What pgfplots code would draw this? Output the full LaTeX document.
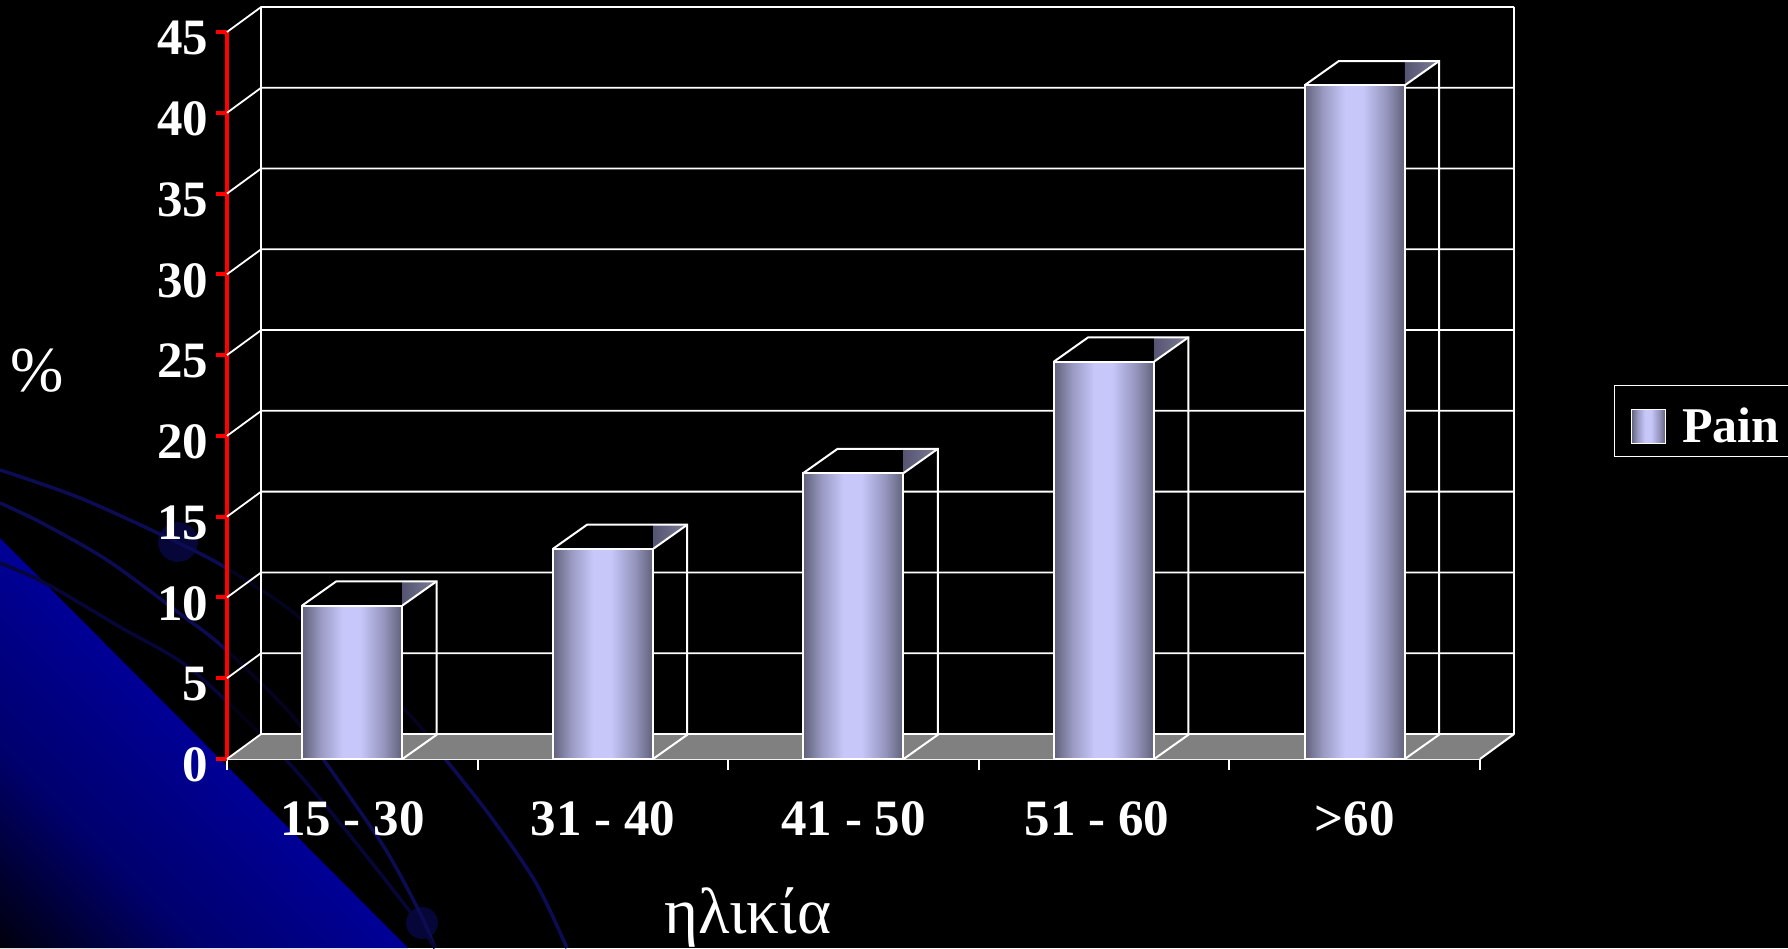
\documentclass[border=0pt]{standalone}
\usepackage{pgfplots}
\pgfplotsset{compat=1.18}
\usepackage{fontspec}
\setmainfont{Liberation Serif}
\definecolor{navy}{RGB}{12,12,84}
\definecolor{navyd}{RGB}{6,6,56}
\definecolor{floorg}{RGB}{128,128,128}
\definecolor{sideD}{RGB}{85,85,115}
\definecolor{sideL}{RGB}{125,125,150}
\pgfdeclarehorizontalshading{barshade}{100bp}{%
 rgb(0bp)=(0.38,0.38,0.48);
 rgb(25bp)=(0.38,0.38,0.48);
 rgb(34bp)=(0.60,0.60,0.76);
 rgb(45bp)=(0.78,0.78,0.98);
 rgb(54bp)=(0.78,0.78,0.98);
 rgb(66bp)=(0.58,0.58,0.74);
 rgb(75bp)=(0.38,0.38,0.48);
 rgb(100bp)=(0.38,0.38,0.48)}
\pgfdeclareverticalshading{swoop}{100bp}{%
 rgb(0bp)=(0,0,0.06);
 rgb(15bp)=(0,0,0.06);
 rgb(32bp)=(0,0,0.43);
 rgb(50bp)=(0,0,0.59);
 rgb(100bp)=(0,0,0.59)}
\newcommand{\threed}[2]{%
  \fill[left color=sideD,right color=sideL] ({#1+0.2},#2) -- ({#1+0.2},{#2+1.5}) -- ({#1+0.3365},{#2+1.5}) -- cycle;
  \draw[white,line width=2pt] ({#1-0.2},#2) -- ({#1-0.0635},{#2+1.5}) -- ({#1+0.3365},{#2+1.5}) -- ({#1+0.3365},1.5) -- ({#1+0.2},0);
  \draw[white,line width=2pt] ({#1+0.2},#2) -- ({#1+0.3365},{#2+1.5});
}
\newcommand{\gridrow}[1]{%
  \draw[white,line width=1.8pt] (-0.5,#1) -- (-0.3635,{#1+1.55}) -- (4.6365,{#1+1.55});
}
\pgfplotsset{barstyle/.style={ybar,bar width=100pt,shade,shading=barshade,draw=white,line width=2pt}}
\begin{document}
\begin{tikzpicture}
\useasboundingbox (0,0) rectangle (1788pt,948pt);
\fill[black] (0,0) rectangle (1788pt,948pt);
\begin{scope}[x=1pt,y=-1pt,shift={(0pt,948pt)}]
  \shade[shading=swoop,shading angle=-45] (0,538) -- (408,948) -- (0,948) -- cycle;
  \fill[navyd] (178,542) circle (20);
  \fill[navyd] (422,923) circle (16);
  \draw[navy,line width=3.5pt] plot[smooth] coordinates {(0,470) (85,500) (199,553) (250,583) (299,617) (402,707) (446,760) (491,817) (536,883) (567,948)};
  \draw[navy,line width=3.5pt] plot[smooth] coordinates {(0,503) (40,522) (107,560) (179,613) (223,647) (290,713) (326,763) (384,847) (420,913) (435,948)};
  \draw[navyd,line width=3.5pt] plot[smooth] coordinates {(0,563) (45,583) (120,627) (192,670) (286,760) (348,833) (411,913) (435,948)};
  \fill[black,opacity=0.6] (227,32) -- (261,7) -- (1514,7) -- (1514,735) -- (1480,759) -- (227,759) -- cycle;
\end{scope}
\begin{axis}[
  at={(227pt,189pt)}, anchor=south west,
  scale only axis, width=1253pt, height=727pt,
  clip=false,
  xmin=-0.5, xmax=4.5, ymin=0, ymax=45,
  axis x line*=bottom, axis y line*=left,
  x axis line style={white,line width=2.2pt,-},
  y axis line style={red,line width=4pt,-},
  xtick={0,1,2,3,4},
  xticklabels={15 - 30,31 - 40,41 - 50,51 - 60\rule{14pt}{0pt},>60},
  minor xtick={-0.5,0.5,1.5,2.5,3.5,4.5},
  ytick={0,5,...,45},
  tick align=outside,
  major tick length=11pt,
  minor tick length=11pt,
  major x tick style={draw=none},
  minor x tick style={white,line width=1.8pt},
  major y tick style={red,line width=4pt},
  /pgf/number format/assume math mode=true,
  tick label style={font=\fontsize{51}{51}\selectfont\bfseries,text=white},
  xticklabel style={yshift=-28pt},
  yticklabel style={yshift=-6pt,xshift=-4pt},
  legend style={at={(1.1068,0.465)},anchor=west,draw=white,line width=1.6pt,fill=none,
    text=white,font=\fontsize{50}{50}\selectfont\bfseries,inner xsep=16pt,inner ysep=10pt,column sep=14pt},
  legend image code/.code={\path[draw=none] (0pt,-17pt) -- (0pt,31pt);\draw[shade,shading=barshade,draw=white,line width=1.6pt] (0pt,-17pt) rectangle (34pt,17pt);},
  legend cell align=left,
]
\fill[floorg] (-0.5,0) -- (-0.3635,1.5) -- (4.6365,1.5) -- (4.5,0) -- cycle;
\draw[white,line width=2pt] (4.5,0) -- (4.6365,1.55);
\gridrow{0}\gridrow{5}\gridrow{10}\gridrow{15}\gridrow{20}\gridrow{25}\gridrow{30}\gridrow{35}\gridrow{40}\gridrow{45}
\draw[white,line width=1.8pt] (-0.3635,1.55) -- (-0.3635,46.55);
\draw[white,line width=1.8pt] (4.6365,1.55) -- (4.6365,46.55);
\threed{0}{9.5}\threed{1}{13}\threed{2}{17.7}\threed{3}{24.6}\threed{4}{41.7}
\addplot[barstyle] coordinates {(0,9.5)};
\addlegendentry{Pain}
\addplot[barstyle,forget plot] coordinates {(1,13)};
\addplot[barstyle,forget plot] coordinates {(2,17.7)};
\addplot[barstyle,forget plot] coordinates {(3,24.6)};
\addplot[barstyle,forget plot] coordinates {(4,41.7)};
\end{axis}
\node[text=white,font=\fontsize{64}{64}\selectfont,anchor=center] at (37pt,577pt) {\%};
\node[text=white,font=\fontsize{65}{65}\selectfont,anchor=center] at (748pt,30pt) {ηλικία};
\end{tikzpicture}
\end{document}
